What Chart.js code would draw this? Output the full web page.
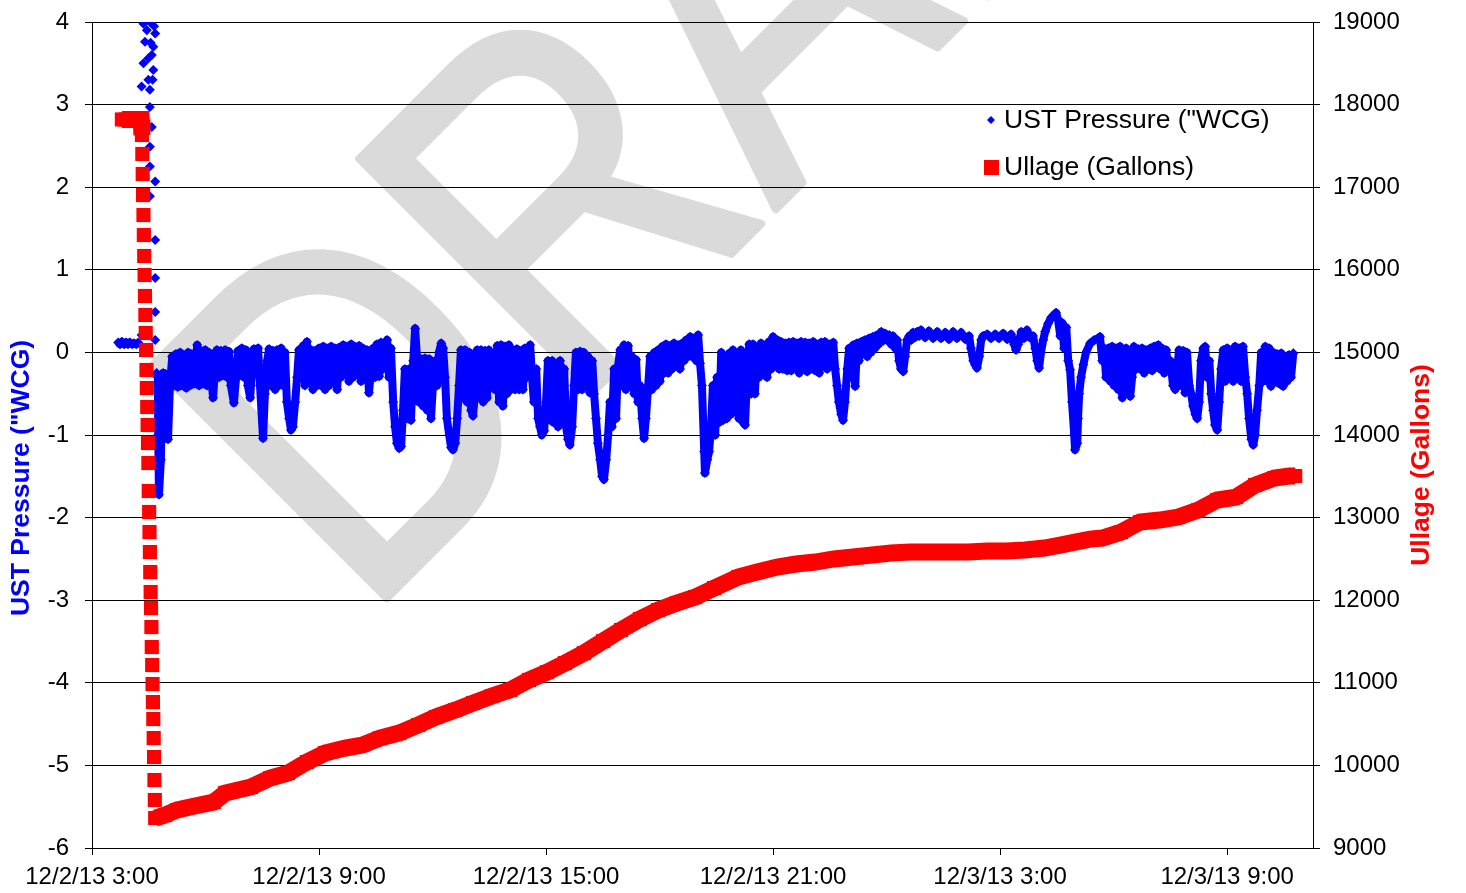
<!DOCTYPE html>
<html>
<head>
<meta charset="utf-8">
<script src="https://cdn.jsdelivr.net/npm/chart.js@4.4.1/dist/chart.umd.min.js"></script>
<style>
  html, body { margin:0; padding:0; background:#fff; }
  #wrap { width:1466px; height:893px; position:relative; }
</style>
</head>
<body>
<div id="wrap"><canvas id="chart"></canvas></div>
<script>
// ---- Data (x = hours after 12/2/13 3:00) ----
const xTickValues = [0, 6, 12, 18, 24, 30];
const xTickLabels = ['12/2/13 3:00', '12/2/13 9:00', '12/2/13 15:00', '12/2/13 21:00', '12/3/13 3:00', '12/3/13 9:00'];

// UST pressure ("WCG): before the drop, the burst during the drop, then the logged band
const pressureBefore = [[0.69,0.12],[0.74,0.10],[0.79,0.13],[0.85,0.10],[0.90,0.12],[0.95,0.10],[1.00,0.12],[1.06,0.10],[1.11,0.11],[1.17,0.10],[1.22,0.12]];
const pressureBurst = [[1.31,0.21],[1.31,3.22],[1.36,3.98],[1.36,3.50],[1.40,3.76],[1.45,3.90],[1.49,3.56],[1.49,3.30],[1.53,4.00],[1.53,3.18],[1.53,2.97],[1.53,2.49],[1.53,2.25],[1.53,1.89],[1.55,3.75],[1.58,2.73],[1.58,3.60],[1.60,3.30],[1.62,3.70],[1.62,3.42],[1.64,3.95],[1.67,3.86],[1.67,2.07],[1.67,1.36],[1.67,0.90],[1.67,0.49],[1.67,0.15],[1.71,-0.25]];
const pressureBand = [
[1.74,-0.30],[1.75,-1.00],[1.77,-1.72],[1.82,-1.30],[1.85,-0.60],[1.88,-0.25],[1.90,-1.00],[1.96,-0.30],[2.01,-1.05],[2.06,-0.40],
[2.12,-0.05],[2.17,-0.40],[2.22,-0.02],[2.27,-0.42],[2.33,0.00],[2.38,-0.40],[2.43,-0.03],[2.49,-0.43],[2.54,0.00],[2.59,-0.40],
[2.64,-0.02],[2.70,-0.38],[2.78,0.09],[2.83,-0.40],[2.88,0.02],[2.93,-0.38],[2.99,0.03],[3.04,-0.40],[3.09,0.00],[3.15,-0.30],
[3.20,-0.55],[3.25,-0.20],[3.30,0.03],[3.36,-0.30],[3.41,0.02],[3.46,-0.28],[3.52,0.03],[3.57,-0.30],[3.62,0.01],[3.67,-0.40],
[3.75,-0.61],[3.81,-0.30],[3.86,0.02],[3.91,-0.28],[3.96,0.05],[4.02,-0.30],[4.07,0.03],[4.12,-0.40],
[4.18,-0.55],[4.23,-0.20],[4.28,0.04],[4.33,-0.10],[4.39,0.05],[4.44,-0.40],[4.52,-1.04],[4.57,-0.50],[4.63,-0.10],[4.68,0.04],
[4.73,-0.40],[4.78,0.02],[4.84,-0.45],[4.89,0.03],[4.94,-0.40],[5.00,0.05],[5.05,-0.40],[5.10,0.00],[5.15,-0.60],[5.21,-0.80],
[5.26,-0.94],[5.31,-0.90],[5.37,-0.60],[5.42,-0.30],[5.47,0.03],
[5.52,-0.30],[5.58,0.08],[5.63,-0.40],[5.68,0.13],[5.74,-0.30],[5.79,0.03],[5.84,-0.45],[5.89,0.02],[5.95,-0.40],[6.00,0.05],
[6.05,-0.40],[6.11,0.07],[6.16,-0.45],[6.21,0.05],[6.27,-0.40],[6.32,0.07],[6.37,-0.30],[6.42,0.05],[6.48,-0.45],[6.53,0.06],
[6.58,-0.30],[6.64,0.09],[6.69,-0.25],[6.74,0.07],[6.79,-0.35],
[6.85,0.10],[6.90,-0.30],[6.95,0.07],[7.01,-0.25],[7.06,0.08],[7.11,-0.35],[7.16,0.05],[7.22,-0.30],[7.27,0.03],[7.32,-0.49],
[7.38,-0.20],[7.43,0.05],[7.48,-0.30],[7.53,0.10],[7.59,-0.29],[7.64,0.12],[7.69,-0.20],[7.75,0.10],[7.80,0.15],[7.85,-0.30],
[7.90,0.05],[7.96,-0.60],[8.01,-0.90],[8.06,-1.10],[8.12,-1.16],
[8.17,-1.14],[8.22,-0.70],[8.27,-0.20],[8.33,-0.80],[8.38,-0.20],[8.43,-0.82],[8.49,-0.10],[8.54,0.29],[8.59,-0.07],[8.64,-0.60],
[8.70,-0.08],[8.75,-0.65],[8.80,-0.07],[8.86,-0.70],[8.91,-0.08],[8.96,-0.80],[9.01,-0.40],[9.07,-0.10],[9.12,-0.40],[9.17,0.00],
[9.23,0.11],[9.28,0.05],[9.33,-0.30],[9.38,-0.80],[9.44,-1.00],
[9.49,-1.15],[9.54,-1.18],[9.60,-1.10],[9.65,-0.80],[9.70,-0.40],[9.75,0.03],[9.81,-0.55],[9.86,0.03],[9.91,-0.60],[9.97,0.00],
[10.02,-0.70],[10.07,-0.77],[10.12,-0.50],[10.18,0.03],[10.23,-0.55],[10.28,0.03],[10.34,-0.60],[10.39,0.02],[10.44,-0.55],[10.49,0.03],
[10.55,-0.40],[10.60,-0.10],[10.65,-0.45],[10.71,0.08],[10.76,-0.60],
[10.81,0.09],[10.86,-0.65],[10.92,0.07],[10.97,-0.50],[11.02,0.09],[11.08,-0.45],[11.13,0.03],[11.18,-0.45],[11.23,0.04],[11.29,-0.45],
[11.34,0.02],[11.39,-0.45],[11.44,0.05],[11.50,-0.30],[11.58,0.09],[11.63,-0.30],[11.68,-0.60],[11.74,-0.20],[11.79,-0.80],[11.84,-0.90],
[11.89,-1.00],[11.95,-0.95],[12.00,-0.60],[12.05,-0.10],
[12.11,-0.82],[12.16,-0.10],[12.21,-0.85],[12.26,-0.15],[12.32,-0.90],[12.37,-0.10],[12.42,-0.85],[12.48,-0.20],[12.53,-0.90],[12.58,-1.05],
[12.63,-1.12],[12.69,-0.90],[12.74,-0.40],[12.79,0.00],[12.85,-0.45],[12.90,0.01],[12.95,-0.45],[13.00,0.00],[13.06,-0.40],[13.11,-0.05],
[13.16,-0.49],[13.22,-0.10],[13.27,-0.50],[13.32,-0.80],[13.37,-1.10],
[13.43,-1.30],[13.48,-1.50],[13.53,-1.54],[13.59,-1.30],[13.64,-1.00],[13.69,-0.60],[13.74,-0.90],[13.80,-0.20],[13.85,-0.80],[13.90,-0.17],
[13.96,0.03],[14.01,-0.40],[14.06,0.09],[14.11,-0.45],[14.17,0.08],[14.22,-0.40],[14.27,-0.05],[14.33,-0.50],[14.38,-0.09],[14.43,-0.60],
[14.48,-0.40],[14.54,-0.80],[14.59,-1.04],[14.64,-0.80],[14.70,-0.40],
[14.75,-0.05],[14.80,-0.45],[14.86,0.00],[14.91,-0.40],[14.96,0.03],[15.01,-0.35],[15.07,0.07],[15.12,-0.25],[15.17,0.10],[15.23,-0.25],
[15.28,0.08],[15.33,-0.20],[15.38,0.11],[15.44,-0.15],[15.49,0.09],[15.54,-0.20],[15.60,0.11],[15.65,-0.10],[15.70,0.15],[15.75,-0.05],
[15.81,0.19],[15.86,-0.05],[15.91,0.17],[15.97,-0.10],[16.02,0.21],
[16.07,-0.13],[16.12,-0.40],[16.18,-1.20],[16.20,-1.46],[16.26,-1.30],[16.31,-1.20],[16.36,-0.90],[16.41,-0.40],[16.47,-1.00],[16.52,-0.30],
[16.57,-0.85],[16.63,0.00],[16.68,-0.82],[16.73,-0.10],[16.78,-0.80],[16.84,-0.01],[16.89,-0.75],[16.94,0.03],[17.00,-0.50],[17.05,-0.01],
[17.10,-0.80],[17.15,0.03],[17.21,-0.85],[17.26,-0.88],[17.31,-0.30],[17.37,0.10],
[17.42,-0.50],[17.47,0.10],[17.52,-0.50],[17.58,0.05],[17.63,-0.30],[17.68,0.11],[17.74,-0.25],[17.79,0.09],[17.84,-0.30],[17.89,0.13],
[17.95,-0.20],[18.00,0.19],[18.05,-0.10],[18.11,0.15],[18.16,-0.20],[18.21,0.13],[18.26,-0.20],[18.32,0.11],[18.37,-0.22],[18.42,0.12],
[18.48,-0.22],[18.53,0.13],[18.58,-0.18],[18.63,0.11],[18.69,-0.25],
[18.74,0.13],[18.79,-0.20],[18.85,0.12],[18.90,-0.23],[18.95,0.11],[19.00,-0.20],[19.06,0.13],[19.11,-0.22],[19.16,0.10],[19.22,-0.25],
[19.27,0.12],[19.32,-0.15],[19.37,0.13],[19.43,-0.20],[19.48,0.10],[19.53,-0.15],[19.59,0.12],[19.64,-0.20],[19.69,-0.40],[19.74,-0.60],
[19.80,-0.75],[19.85,-0.82],[19.90,-0.60],[19.96,-0.20],[20.01,0.05],
[20.06,-0.30],[20.12,0.09],[20.17,-0.41],[20.22,0.11],[20.27,-0.10],[20.33,0.13],[20.38,0.00],[20.43,0.15],[20.49,-0.05],[20.54,0.17],
[20.59,0.00],[20.64,0.19],[20.70,0.05],[20.75,0.21],[20.80,0.10],[20.86,0.25],[20.91,0.14],[20.96,0.23],[21.01,0.15],[21.07,0.21],
[21.12,0.10],[21.17,0.20],[21.23,0.05],[21.28,0.15],[21.33,-0.10],
[21.38,-0.20],[21.44,-0.23],[21.49,-0.05],[21.54,0.15],[21.60,0.20],[21.65,0.15],[21.70,0.24],[21.75,0.18],[21.81,0.25],[21.86,0.20],
[21.91,0.27],[22.02,0.18],[22.12,0.26],[22.23,0.17],[22.34,0.25],[22.44,0.17],[22.55,0.24],[22.65,0.16],
[22.76,0.25],[22.86,0.17],[22.97,0.24],[23.08,0.16],[23.18,0.20],[23.23,0.05],[23.29,-0.10],[23.34,-0.15],[23.39,-0.19],[23.45,-0.05],
[23.50,0.15],[23.55,0.20],[23.66,0.22],[23.76,0.17],[23.87,0.22],[23.97,0.17],
[24.08,0.23],[24.19,0.16],[24.29,0.22],[24.37,0.10],[24.42,0.03],[24.48,0.10],[24.56,0.25],[24.63,0.17],[24.71,0.27],[24.79,0.18],
[24.87,0.20],[24.93,0.05],[24.98,-0.10],[25.03,-0.19],[25.08,0.00],[25.14,0.15],[25.19,0.25],[25.27,0.35],
[25.35,0.42],[25.43,0.46],[25.48,0.48],[25.53,0.40],[25.59,0.20],[25.64,0.36],[25.69,0.05],[25.75,0.30],[25.80,-0.10],[25.85,-0.21],
[25.90,-0.60],[25.96,-1.00],[25.98,-1.18],[26.04,-1.10],[26.06,-0.80],[26.09,-0.50],[26.14,-0.30],[26.20,-0.15],[26.27,0.00],[26.38,0.11],
[26.49,0.15],[26.59,0.17],
[26.64,0.19],[26.70,-0.10],[26.75,0.05],[26.80,-0.30],[26.86,0.05],[26.91,-0.35],[26.96,0.07],[27.01,-0.40],[27.07,0.05],[27.12,-0.45],
[27.17,0.07],[27.23,-0.55],[27.28,-0.30],[27.33,0.05],[27.38,-0.45],[27.44,-0.53],[27.49,-0.30],[27.54,0.07],[27.60,-0.20],[27.65,0.04],
[27.70,-0.20],[27.75,0.05],[27.81,-0.25],[27.86,0.03],[27.91,-0.20],
[27.97,0.05],[28.02,-0.22],[28.07,0.07],[28.12,-0.18],[28.18,0.09],[28.23,-0.20],[28.28,0.05],[28.34,-0.25],[28.39,0.03],[28.44,-0.20],
[28.50,-0.10],[28.57,-0.40],[28.63,-0.45],[28.68,-0.20],[28.73,0.03],[28.79,-0.40],[28.84,0.02],[28.89,-0.49],[28.94,0.00],[29.00,-0.40],
[29.05,-0.50],[29.10,-0.65],[29.16,-0.75],[29.21,-0.80],[29.26,-0.60],
[29.31,-0.10],[29.37,0.05],[29.42,0.07],[29.47,-0.30],[29.53,-0.10],[29.58,-0.50],[29.63,-0.70],[29.68,-0.88],[29.74,-0.94],[29.79,-0.60],
[29.84,-0.20],[29.90,0.03],[29.95,-0.35],[30.00,0.05],[30.05,-0.30],[30.11,0.03],[30.16,-0.35],[30.21,0.07],[30.27,-0.30],[30.32,0.05],
[30.37,-0.35],[30.42,0.07],[30.48,-0.30],[30.53,-0.50],[30.58,-0.80],
[30.64,-1.05],[30.69,-1.12],[30.74,-1.00],[30.79,-0.70],[30.85,-0.40],[30.90,0.00],[30.95,-0.35],[31.01,0.07],[31.06,-0.35],[31.11,0.05],
[31.16,-0.41],[31.22,0.00],[31.27,-0.35],[31.32,-0.02],[31.38,-0.38],[31.43,-0.01],[31.48,-0.41],[31.53,-0.05],[31.59,-0.35],[31.64,-0.03],
[31.69,-0.30],[31.75,-0.01]
];

// Ullage (gallons): full tank, the drop (single readings), then the slow rise
const ullageTop = [[0.79,17820],[0.90,17820],[1.00,17820],[1.11,17820],[1.22,17820],[1.30,17820]];
const ullageDrop = [[1.32,17632],[1.33,17402],[1.34,17160],[1.35,16905],[1.36,16663],[1.37,16421],[1.38,16167],[1.39,15937],[1.40,15683],[1.41,15453],
[1.42,15235],[1.43,15029],[1.44,14787],[1.45,14569],[1.46,14339],[1.47,14121],[1.48,13903],[1.49,13661],[1.50,13322],[1.51,13068],
[1.52,12825],[1.53,12583],[1.54,12341],[1.55,12099],[1.56,11905],[1.57,11675],[1.58,11433],[1.59,11215],[1.60,10985],[1.61,10767],
[1.62,10561],[1.63,10331],[1.64,10101],[1.65,9823],[1.66,9581],[1.67,9363]];
const ullageRise = [[1.93,9399],[2.25,9460],[2.72,9508],[3.22,9557],[3.52,9666],[4.20,9738],[4.71,9847],[5.18,9907],[5.68,10041],[6.16,10150],
[6.69,10210],[7.14,10246],[7.61,10331],[8.12,10392],[8.62,10489],[9.09,10586],[9.60,10670],[10.07,10755],[10.57,10840],[11.05,10913],
[11.55,11034],[12.03,11130],[12.50,11239],[13.00,11360],[13.51,11506],[13.98,11639],[14.48,11772],[14.96,11880],[15.46,11966],[15.94,12038],
[16.44,12147],[17.08,12281],[17.58,12341],[18.11,12402],[18.61,12438],[19.11,12462],[19.61,12499],[20.12,12523],[20.62,12547],[21.12,12571],
[21.62,12583],[22.15,12583],[22.65,12583],[23.16,12583],[23.66,12595],[24.16,12595],[24.66,12607],[25.17,12632],[25.59,12668],[25.98,12704],
[26.38,12740],[26.70,12753],[27.20,12825],[27.70,12946],[28.21,12970],[28.71,13007],[29.24,13092],[29.74,13213],[30.24,13249],[30.74,13394],
[31.25,13479],[31.64,13503],[31.80,13503]];

const FONT = '"Liberation Sans", Arial, sans-serif';
const BLUE = '#0000FF';
const RED = '#FF0000';

const toXY = arr => arr.map(([x, y]) => ({x, y}));

// ---- plugins ----
const watermark = {
  id: 'watermark',
  beforeDraw(chart){
    const ctx = chart.ctx;
    ctx.save();
    ctx.translate(363, 622);
    ctx.rotate(-Math.PI/4);
    ctx.scale(0.84, 1);
    ctx.font = '480px ' + FONT;
    ctx.fillStyle = '#dadada';
    ctx.strokeStyle = '#dadada';
    ctx.lineWidth = 8;
    ctx.lineJoin = 'round';
    ctx.fillText('DRAFT', 0, 0);
    ctx.strokeText('DRAFT', 0, 0);
    ctx.restore();
  }
};

const extras = {
  id: 'extras',
  afterDraw(chart){
    const ctx = chart.ctx;
    const ds = chart.data.datasets;
    ctx.save();
    // legend
    ctx.font = '26.5px ' + FONT;
    ctx.textBaseline = 'middle';
    ctx.textAlign = 'left';
    ctx.fillStyle = BLUE;
    ctx.beginPath();
    ctx.moveTo(991, 116); ctx.lineTo(995, 120); ctx.lineTo(991, 124); ctx.lineTo(987, 120);
    ctx.closePath(); ctx.fill();
    ctx.fillStyle = '#000';
    ctx.fillText(ds[0].label, 1004, 121);
    ctx.fillStyle = RED;
    ctx.fillRect(984, 160, 15, 15);
    ctx.fillStyle = '#000';
    ctx.fillText(ds[1].label, 1004, 168);
    // axis titles
    ctx.font = 'bold 26.5px ' + FONT;
    ctx.textAlign = 'center';
    ctx.save();
    ctx.translate(22, 478); ctx.rotate(-Math.PI/2);
    ctx.fillStyle = BLUE; ctx.fillText(ds[0].label, 0, 0);
    ctx.restore();
    ctx.save();
    ctx.translate(1422, 465); ctx.rotate(-Math.PI/2);
    ctx.fillStyle = RED; ctx.fillText(ds[1].label, 0, 0);
    ctx.restore();
    ctx.restore();
  }
};

const tickFont = {family: FONT, size: 24};
const fixY = w => s => { s.width = w; s.paddingTop = 0; s.paddingBottom = 0; };

new Chart(document.getElementById('chart'), {
  type: 'line',
  data: {
    datasets: [
      {
        label: 'UST Pressure ("WCG)',
        data: toXY(pressureBefore.concat(pressureBurst, pressureBand)),
        yAxisID: 'y',
        order: 2,
        borderColor: BLUE,
        backgroundColor: BLUE,
        borderWidth: 8,
        borderJoinStyle: 'round',
        pointStyle: 'rectRot',
        pointRadius: 5,
        pointBorderWidth: 0,
        pointBackgroundColor: BLUE,
        tension: 0,
        segment: {
          // burst readings are separate markers, no joining line
          borderColor: c => (c.p1.parsed.x > 1.25 && c.p1.parsed.x < 1.735) ? 'rgba(0,0,0,0)' : BLUE
        }
      },
      {
        label: 'Ullage (Gallons)',
        data: toXY(ullageTop.concat(ullageDrop, ullageRise)),
        yAxisID: 'y2',
        order: 1,
        borderColor: RED,
        backgroundColor: RED,
        borderWidth: 17,
        borderCapStyle: 'butt',
        pointStyle: 'rect',
        pointRadius: 10,
        pointBorderWidth: 0,
        pointBackgroundColor: RED,
        tension: 0,
        segment: {
          borderColor: c => (c.p0.parsed.x >= 1.315 && c.p1.parsed.x <= 1.675) ? 'rgba(0,0,0,0)' : RED
        }
      }
    ]
  },
  options: {
    responsive: true,
    maintainAspectRatio: false,
    animation: false,
    devicePixelRatio: 1,
    layout: { padding: { top: 22, left: 0, right: 0, bottom: 0 } },
    plugins: { legend: { display: false }, tooltip: { enabled: false } },
    scales: {
      x: {
        type: 'linear', min: 0, max: 32.27,
        afterBuildTicks: s => { s.ticks = xTickValues.map(v => ({value: v})); },
        afterFit: s => { s.height = 45; },
        ticks: { font: tickFont, color: '#000', padding: 8, maxRotation: 0, autoSkip: false,
                 callback: (v, i) => xTickLabels[i] },
        grid: { drawOnChartArea: false, drawTicks: true, tickLength: 7, color: '#000' },
        border: { color: '#000', width: 1 }
      },
      y: {
        position: 'left', min: -6, max: 4,
        afterFit: fixY(92),
        ticks: { stepSize: 1, font: tickFont, color: '#000', padding: 16, callback: v => String(v) },
        grid: { color: '#000', lineWidth: 1, tickLength: 7 },
        border: { color: '#000', width: 1 }
      },
      y2: {
        position: 'right', min: 9000, max: 19000,
        afterFit: fixY(153),
        ticks: { stepSize: 1000, font: tickFont, color: '#000', padding: 13, callback: v => String(v) },
        grid: { drawOnChartArea: false, tickLength: 7, color: '#000' },
        border: { color: '#000', width: 1 }
      }
    }
  },
  plugins: [watermark, extras]
});
</script>
</body>
</html>
